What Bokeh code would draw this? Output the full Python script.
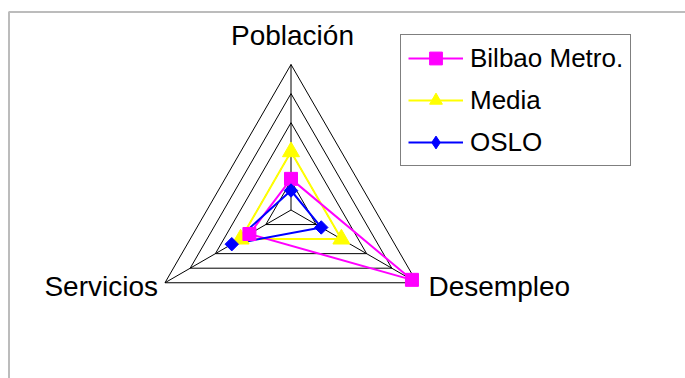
import math
from bokeh.plotting import figure
from bokeh.models import Range1d, Legend, LegendItem, BoxAnnotation
from bokeh.core.properties import value
from bokeh.embed import file_html
from bokeh.resources import INLINE

# ---- data ----
axis_labels = ["Población", "Desempleo", "Servicios"]
series_names = ["Bilbao Metro.", "Media", "OSLO"]
bilbao = [1.07, 4.8, 1.65]
media = [2.0, 2.0, 2.0]
oslo = [0.67, 1.2, 2.35]
ring_levels = [1, 2, 3, 4, 5]

# ---- layout (page pixel coordinates) ----
W, H = 685, 378
CX, CY = 290.5, 209.5
UNIT = 29.1
ANGLES = [90, -30, 210]

p = figure(width=W, height=H, output_backend="svg", toolbar_location=None,
           x_range=Range1d(0, W), y_range=Range1d(H, 0),
           min_border=0, min_border_left=0, min_border_right=0,
           min_border_top=0, min_border_bottom=0)
p.axis.visible = False
p.grid.visible = False
p.outline_line_color = None
p.background_fill_color = "white"
p.border_fill_color = "white"


def pt(v, ang):
    a = math.radians(ang)
    return CX + v * UNIT * math.cos(a), CY - v * UNIT * math.sin(a)


# outer chart-area frame (only top/left visible)
p.add_layout(BoxAnnotation(left=8.5, right=5000, top=11.5, bottom=5000,
                           fill_alpha=0, line_color="#202020", line_width=2))

# grid rings
for lv in ring_levels:
    xs, ys = zip(*[pt(lv, a) for a in ANGLES + ANGLES[:1]])
    p.line(list(xs), list(ys), line_color="black", line_width=1)

# spokes
outer = [pt(ring_levels[-1], a) for a in ANGLES]
p.segment(x0=[CX] * 3, y0=[CY] * 3, x1=[o[0] for o in outer],
          y1=[o[1] for o in outer], line_color="black", line_width=1)

# axis labels
font = value("Liberation Sans")
top_v, right_v, left_v = outer
p.text(x=[top_v[0] + 1.5], y=[top_v[1] - 29], text=[axis_labels[0]],
       text_font=font, text_font_size="28px", text_align="center",
       text_baseline="alphabetic", text_color="black")
p.text(x=[right_v[0] + 11.5], y=[right_v[1] + 4], text=[axis_labels[1]],
       text_font=font, text_font_size="28px", text_align="left",
       text_baseline="alphabetic", text_color="black")
p.text(x=[left_v[0] - 7], y=[left_v[1] + 4], text=[axis_labels[2]],
       text_font=font, text_font_size="28px", text_align="right",
       text_baseline="alphabetic", text_color="black")

# series
styles = {
    "Bilbao Metro.": dict(color="#FF00FF", marker="square", size=13, angle=0, leg="square"),
    "Media": dict(color="#FFFF00", marker="triangle", size=17, angle=0, leg="triangle"),
    "OSLO": dict(color="#0000FF", marker="square", size=9.5, angle=math.pi / 4, leg="diamond"),
}
data = {"Bilbao Metro.": bilbao, "Media": media, "OSLO": oslo}
draw_order = ["Media", "Bilbao Metro.", "OSLO"]
renderers = {}
for name in draw_order:
    vals = data[name]
    st = styles[name]
    xs, ys = zip(*[pt(v, a) for v, a in zip(vals, ANGLES)])
    ln = p.line(list(xs) + [xs[0]], list(ys) + [ys[0]], line_color=st["color"], line_width=2)
    renderers[name] = [ln]
for name in draw_order:
    vals = data[name]
    st = styles[name]
    xs, ys = zip(*[pt(v, a) for v, a in zip(vals, ANGLES)])
    sc = p.scatter(list(xs), list(ys), marker=st["marker"], size=st["size"], angle=st["angle"],
                   fill_color=st["color"], line_color=st["color"], line_width=1)
    if st["leg"] == st["marker"]:
        renderers[name].append(sc)
    else:
        # legend-only marker shape (its single point is NaN, so nothing is drawn on the chart)
        leg = p.scatter([float("nan")], [float("nan")], marker=st["leg"], size=15,
                        fill_color=st["color"], line_color=st["color"], line_width=1)
        renderers[name].append(leg)

# legend: box spans x 400..633, y 37..166 (top-down); location is from bottom-left
legend = Legend(
    items=[LegendItem(label=n, renderers=renderers[n]) for n in series_names],
    location=(400, H - 166),
    label_text_font="Liberation Sans", label_text_font_size="26px",
    label_text_color="black",
    glyph_width=55, glyph_height=32, label_height=24, spacing=10,
    padding=7, margin=0, label_standoff=7,
    border_line_color="black", border_line_width=1.5,
    background_fill_color="white", background_fill_alpha=1.0,
)
p.add_layout(legend)

open("out.html", "w").write(file_html(p, INLINE))
